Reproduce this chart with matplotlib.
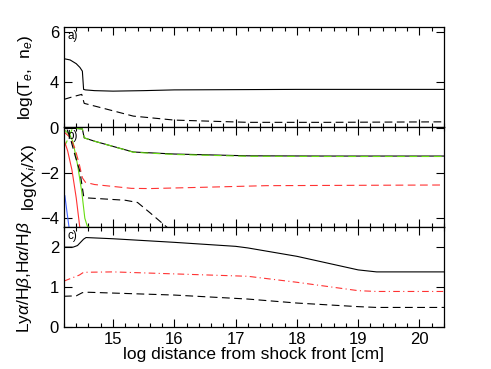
import matplotlib
matplotlib.use("Agg")
import matplotlib.pyplot as plt
from matplotlib.ticker import MultipleLocator

plt.rcParams['font.family'] = ['Liberation Sans', 'DejaVu Sans']
plt.rcParams['mathtext.fontset'] = 'custom'
plt.rcParams['mathtext.rm'] = 'Liberation Sans'
plt.rcParams['mathtext.it'] = 'Liberation Sans:italic'

# panel a: temperature and density
te_x = [14.2, 14.3, 14.4, 14.46, 14.5, 14.52, 14.55, 14.7, 15.0, 15.5, 16.0, 17.0, 18.0, 19.0, 20.4]
te_y = [4.95, 4.9, 4.75, 4.6, 4.45, 3.72, 3.70, 3.67, 3.65, 3.67, 3.70, 3.71, 3.72, 3.72, 3.72]
ne_x = [14.2, 14.35, 14.49, 14.53, 14.8, 15.33, 16.0, 17.2, 18.5, 20.4]
ne_y = [3.32, 3.43, 3.52, 3.16, 2.99, 2.65, 2.49, 2.40, 2.40, 2.42]

# panel b: ionisation fractions
hp_x = [14.2, 14.4, 14.5, 14.53, 14.7, 15.0, 15.33, 16.0, 17.2, 18.5, 20.4]
hp_y = [0.0, 0.0, -0.02, -0.42, -0.57, -0.8, -1.05, -1.14, -1.22, -1.23, -1.23]
gd_x = [14.2, 14.26, 14.33, 14.4, 14.5, 14.53, 14.7, 15.0, 15.33, 16.0, 17.2, 18.5, 20.4]
gd_y = [-0.85, -0.5, -0.05, 0.0, -0.02, -0.42, -0.57, -0.8, -1.06, -1.16, -1.24, -1.25, -1.25]
gs_x = [14.2, 14.3, 14.35, 14.42, 14.49, 14.54, 14.58, 14.62, 14.7]
gs_y = [-0.05, -0.3, -0.63, -1.6, -2.82, -4.0, -4.35, -4.42, -4.45]
rs_x = [14.2, 14.26, 14.33, 14.4, 14.46]
rs_y = [-0.5, -1.0, -1.85, -3.1, -4.45]
rd_x = [14.2, 14.3, 14.38, 14.45, 14.5, 14.55, 14.7, 15.3, 15.6, 16.5, 17.5, 20.4]
rd_y = [-0.15, -0.4, -0.9, -1.6, -2.2, -2.4, -2.5, -2.67, -2.68, -2.62, -2.55, -2.52]
kd_x = [14.25, 14.3, 14.38, 14.46, 14.52, 14.6, 15.2, 15.4, 15.6, 15.9]
kd_y = [-0.05, -0.4, -1.2, -1.92, -3.0, -3.1, -3.2, -3.3, -3.75, -4.45]
bs_x = [14.215, 14.25, 14.285]
bs_y = [-3.0, -3.75, -4.45]

# panel c: line ratios
lya_x = [14.2, 14.35, 14.42, 14.47, 14.52, 14.56, 15.0, 16.0, 17.0, 17.2, 18.0, 18.5, 19.0, 19.3, 20.4]
lya_y = [2.0, 2.0, 2.04, 2.12, 2.2, 2.24, 2.21, 2.12, 2.02, 1.98, 1.77, 1.6, 1.43, 1.38, 1.38]
ha_x = [14.2, 14.3, 14.45, 14.52, 15.0, 16.0, 17.2, 18.0, 19.0, 19.3, 20.4]
ha_y = [1.15, 1.21, 1.30, 1.37, 1.38, 1.33, 1.27, 1.12, 0.91, 0.89, 0.89]
hb_x = [14.2, 14.4, 14.5, 14.6, 15.0, 16.0, 17.2, 18.0, 19.0, 19.3, 20.4]
hb_y = [0.77, 0.78, 0.86, 0.87, 0.85, 0.80, 0.70, 0.60, 0.51, 0.49, 0.49]

green = '#66dd11'
red = '#ff3333'
blue = '#4466ff'
dash = (0, (7, 4))
lw = 0.8

fig, axes = plt.subplots(3, 1, figsize=(4.91, 3.69), dpi=100, sharex=True)
fig.subplots_adjust(left=0.1303, right=0.9043, top=0.9255, bottom=0.1138, hspace=0)
ax1, ax2, ax3 = axes

ax1.plot(te_x, te_y, color='black', lw=lw)
ax1.plot(ne_x, ne_y, color='black', lw=lw, linestyle=dash)
ax1.set_ylim(2.2, 6.2)
ax1.set_yticks([4, 6])

ax2.plot(hp_x, hp_y, color='black', lw=lw)
ax2.plot(gd_x, gd_y, color=green, lw=lw, linestyle=dash)
ax2.plot(gs_x, gs_y, color=green, lw=lw)
ax2.plot(rs_x, rs_y, color=red, lw=lw)
ax2.plot(rd_x, rd_y, color=red, lw=lw, linestyle=dash)
ax2.plot(kd_x, kd_y, color='black', lw=lw, linestyle=dash)
ax2.plot(bs_x, bs_y, color=blue, lw=lw)
ax2.set_ylim(-4.4, 0.05)
ax2.set_yticks([-4, -2, 0])

ax3.plot(lya_x, lya_y, color='black', lw=lw)
ax3.plot(ha_x, ha_y, color=red, lw=lw, linestyle=(0, (6, 3, 1, 3)))
ax3.plot(hb_x, hb_y, color='black', lw=lw, linestyle=dash)
ax3.set_ylim(0, 2.5)
ax3.set_yticks([0, 1, 2])

for ax, lab in zip(axes, ['a)', 'b)', 'c)']):
    ax.set_xlim(14.2, 20.4)
    ax.xaxis.set_major_locator(MultipleLocator(1))
    ax.xaxis.set_minor_locator(MultipleLocator(0.2))
    ax.tick_params(which='both', direction='in', top=True, right=True, labelsize=12)
    ax.tick_params(which='major', length=6, width=0.8)
    ax.tick_params(which='minor', length=3, width=0.8)
    for s in ax.spines.values():
        s.set_linewidth(0.9)
    ax.text(0.008, 0.97, lab, transform=ax.transAxes, fontsize=8.5, va='top', ha='left')

ax1.set_ylabel(r'log(T$_e$,  n$_e$)', fontsize=12.5)
ax2.set_ylabel(r'log(X$_i$/X)', fontsize=12.5)
ax3.set_ylabel(r'Ly$\alpha$/H$\beta$,H$\alpha$/H$\beta$', fontsize=12.5)
ax1.yaxis.set_label_coords(-0.075, 0.5)
ax2.yaxis.set_label_coords(-0.066, 0.5)
ax3.yaxis.set_label_coords(-0.078, 0.5)
ax3.set_xlabel('log distance from shock front [cm]', fontsize=12.5, labelpad=0)

fig.savefig('out.png', dpi=100)
